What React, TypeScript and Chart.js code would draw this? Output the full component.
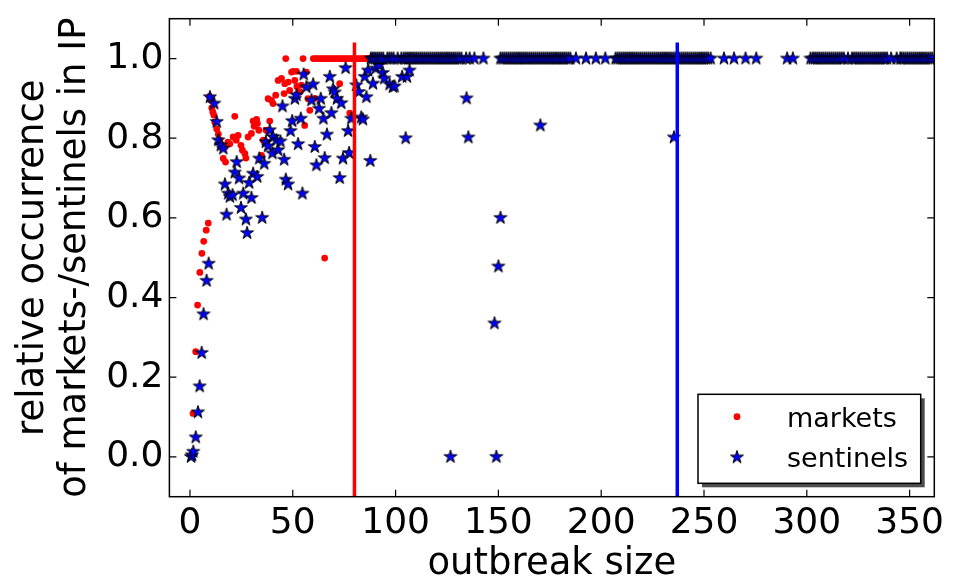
import React, { useEffect, useRef } from 'react';
import { Chart, registerables } from 'chart.js';

Chart.register(...registerables);

// ---------------- data ----------------
const seriesLabels = ['markets', 'sentinels'];

const marketsX = [
  0.8, 1.5, 2.8, 3.7, 4.8, 5.8, 6.7, 7.9, 8.9,
  9.5, 10.3, 10.6, 11.1, 11.6, 12.1, 13.0, 13.8, 14.5, 15.5, 16.2, 17.3, 17.0, 18.5, 19.4,
  21.0, 21.8, 22.5, 23.4, 24.8, 25.5, 26.7, 27.2, 28.3, 29.9, 30.7, 31.2, 32.4, 32.8, 33.5,
  34.8, 35.6, 37.0, 38.0, 38.8, 39.6, 40.4, 41.7, 42.9, 44.5, 45.8, 46.1, 46.6, 47.8, 48.5,
  49.4, 50.2, 51.0, 51.8, 52.0, 53.4, 54.2, 55.0, 55.8, 56.6, 57.4, 58.3, 60.0, 60.7,
  61, 62, 63, 64, 65, 65.5, 66, 67, 68, 69, 70, 71, 72, 72.8, 73, 74, 75, 76, 77, 77.7,
  78, 79, 80, 81, 82, 83, 84, 85, 86, 87, 88, 89, 90, 91, 92.5, 93, 95, 97, 99, 101, 103, 105,
];
const marketsY = [
  0.005, 0.109, 0.264, 0.381, 0.463, 0.511, 0.541, 0.569, 0.587,
  0.905, 0.895, 0.876, 0.866, 0.858, 0.84, 0.823, 0.81, 0.795, 0.776, 0.749, 0.74, 0.778, 0.79, 0.786,
  0.803, 0.855, 0.795, 0.807, 0.782, 0.77, 0.761, 0.75, 0.803, 0.812, 0.843, 0.83, 0.847, 0.837, 0.82,
  0.757, 0.795, 0.82, 0.899, 0.843, 0.895, 0.887, 0.908, 0.945, 0.95, 0.912, 0.937, 1.0, 0.941, 0.92,
  0.966, 0.968, 0.945, 0.968, 0.93, 0.916, 0.933, 1.0, 0.832, 0.966, 0.899, 0.87, 1.0, 0.9,
  1, 1, 1, 1, 1, 0.499, 1, 1, 1, 1, 1, 1, 1, 0.937, 1, 1, 1, 1, 1, 0.863,
  1, 1, 1, 1, 1, 1, 1, 1, 1, 1, 1, 1, 1, 1, 0.99, 1, 1, 1, 1, 1, 1, 0.995,
];

const sentinelsX = [
  0.5, 1.0, 1.6, 2.8, 3.9, 4.7, 5.7, 6.6, 8.1, 9.1,
  9.7, 11.8, 13.0, 13.8, 15.0, 16.2, 17.0, 17.8, 18.6, 19.4, 20.7, 21.8, 22.7, 23.9, 24.8,
  25.9, 27.2, 27.8, 28.8, 29.9, 30.7, 32.7, 33.7, 35.1, 36.1, 36.9, 38.0, 38.8, 40.1, 40.4,
  42.0, 42.9, 44.0, 45.0, 45.8, 46.6, 47.7, 48.9, 49.7, 51.0, 51.8, 52.6, 53.9, 54.7, 55.3,
  56.6, 59.1, 59.9, 60.7, 61.5, 62.8, 63.6, 64.9, 65.5, 66.6, 68.0, 68.8, 69.6, 70.4, 71.5,
  72.8, 73.6, 74.4, 75.7, 76.9, 77.4, 78.5, 80.9, 82.1, 83.3, 84.1, 85.0, 85.8, 86.6, 87.7,
  89.0, 90.3, 91.9, 93.8, 94.5, 97.1, 98.7, 99.5, 103.2, 104.9, 105.5, 106.8,
  126.7, 134.5, 135.4, 148.1, 149.0, 150.0, 151.0, 170.4, 235.4,
];
const sentinelsY = [
  0.0, 0.004, 0.013, 0.049, 0.112, 0.177, 0.261, 0.358, 0.442, 0.485,
  0.903, 0.887, 0.841, 0.795, 0.782, 0.774, 0.684, 0.608, 0.661, 0.653, 0.657, 0.714, 0.74, 0.699, 0.625,
  0.661, 0.596, 0.562, 0.688, 0.65, 0.711, 0.703, 0.749, 0.6, 0.736, 0.79, 0.78, 0.82, 0.762, 0.803,
  0.795, 0.77, 0.792, 0.88, 0.746, 0.696, 0.684, 0.818, 0.843, 0.899, 0.908, 0.785, 0.849, 0.661, 0.96,
  0.928, 0.895, 0.935, 0.778, 0.732, 0.874, 0.899, 0.849, 0.75, 0.809, 0.954, 0.863, 0.923, 0.915, 0.899,
  0.7, 0.888, 0.749, 0.976, 0.818, 0.763, 0.849, 0.933, 0.916, 0.852, 0.847, 0.954, 0.903, 0.97, 0.743,
  0.937, 0.975, 0.983, 0.964, 0.95, 0.935, 0.929, 0.93, 0.954, 0.8, 0.954, 0.97,
  0.0, 0.9, 0.802, 0.335, 0.0, 0.478, 0.6, 0.832, 0.802,
];

// outbreak sizes where the sentinels' relative occurrence is exactly 1.0
const sentinelsFullX = [
  88, 89, 90, 91, 92, 93, 94, 96, 97, 98, 99, 101, 102.8, 104, 105, 106, 107, 108, 109, 110,
  111, 112, 113, 114, 115, 116, 117, 118, 119, 120, 121, 122, 123, 124, 125, 126, 127, 128, 129,
  130, 131, 132, 134.3, 136, 138.3, 142.7,
  151, 152, 153, 154, 155, 156, 157, 158, 159, 160, 161, 162, 163, 164, 165, 166, 167, 168, 169,
  170, 171, 172, 173, 174, 175, 176, 177, 178, 179, 180, 181, 182, 183, 184, 185, 187.7, 192.6,
  197.4, 202,
  207, 208, 209, 210, 211, 212, 213, 214, 215, 216, 217, 218, 219, 220, 221, 222, 223, 224, 225,
  226, 227, 228, 229, 230, 231, 232, 233, 234, 235, 236, 237, 238, 239, 240, 241, 242, 243, 244,
  245, 246, 247, 248, 249, 250, 251, 252, 253.2, 259.7, 264.6, 270.2, 275.4,
  290.4, 293.2,
  301.8, 303, 304, 305, 306, 307, 308, 309, 310, 311, 312, 313, 314, 315, 316, 317, 318, 320,
  322, 323, 324, 325, 326, 327, 328, 329, 330, 331, 332, 333, 334, 335, 336, 337, 338, 339, 341,
  343.7, 345.5, 346, 347, 348, 349, 350, 351, 352, 353, 354, 355, 356, 357, 358, 359, 360, 361,
];

const marketsThreshold = 80;
const sentinelsThreshold = 237;
const thresholdLineY = [-0.1, 1.04];

const xTicks = [0, 50, 100, 150, 200, 250, 300, 350];
const yTicks = [0.0, 0.2, 0.4, 0.6, 0.8, 1.0];
const xRange = [-10, 362];
const yRange = [-0.1, 1.1];

const xTitle = 'outbreak size';
const yTitle = ['relative occurrence', 'of markets-/sentinels in IP'];

const FONT = "'DejaVu Sans', sans-serif";

function makeStar(r: number): HTMLCanvasElement {
  const size = Math.ceil(r * 2 + 4);
  const c = document.createElement('canvas');
  c.width = size;
  c.height = size;
  const ctx = c.getContext('2d')!;
  const cx = size / 2;
  const cy = size / 2;
  ctx.beginPath();
  for (let i = 0; i < 10; i++) {
    const rad = i % 2 === 0 ? r : r * 0.382;
    const a = -Math.PI / 2 + (i * Math.PI) / 5;
    const px = cx + rad * Math.cos(a);
    const py = cy + rad * Math.sin(a);
    if (i === 0) ctx.moveTo(px, py);
    else ctx.lineTo(px, py);
  }
  ctx.closePath();
  ctx.fillStyle = '#0000ff';
  ctx.fill();
  ctx.lineWidth = 1;
  ctx.strokeStyle = '#000000';
  ctx.stroke();
  return c;
}

export default function App() {
  const ref = useRef<HTMLCanvasElement | null>(null);

  useEffect(() => {
    const canvas = ref.current;
    if (!canvas) return;
    const star = makeStar(6.8);

    const marketsData = marketsX.map((x, i) => ({ x, y: marketsY[i] }));
    const sentinelsData = sentinelsX
      .map((x, i) => ({ x, y: sentinelsY[i] }))
      .concat(sentinelsFullX.map((x) => ({ x, y: 1.0 })));

    const framePlugin = {
      id: 'frameAndLegend',
      afterDraw(chart: any) {
        const { ctx, chartArea: a, scales } = chart;
        ctx.save();
        // frame
        ctx.strokeStyle = '#000';
        ctx.lineWidth = 1.5;
        ctx.strokeRect(a.left, a.top, a.right - a.left, a.bottom - a.top);
        // inward ticks on all four sides
        const tl = 7;
        ctx.lineWidth = 1.2;
        ctx.beginPath();
        xTicks.forEach((v) => {
          const px = scales.x.getPixelForValue(v);
          ctx.moveTo(px, a.bottom);
          ctx.lineTo(px, a.bottom - tl);
          ctx.moveTo(px, a.top);
          ctx.lineTo(px, a.top + tl);
        });
        yTicks.forEach((v) => {
          const py = scales.y.getPixelForValue(v);
          ctx.moveTo(a.left, py);
          ctx.lineTo(a.left + tl, py);
          ctx.moveTo(a.right, py);
          ctx.lineTo(a.right - tl, py);
        });
        ctx.stroke();

        // legend
        const w = 222.7;
        const h = 89;
        const bx = a.right - 13.6 - w;
        const by = a.bottom - 13.4 - h;
        ctx.fillStyle = '#4d4d4d';
        ctx.fillRect(bx + 4, by + 4, w, h);
        ctx.fillStyle = '#ffffff';
        ctx.fillRect(bx, by, w, h);
        ctx.strokeStyle = '#000';
        ctx.lineWidth = 1.5;
        ctx.strokeRect(bx, by, w, h);

        const mx = bx + 39;
        const r1 = by + 22.4;
        const r2 = by + 63;
        ctx.fillStyle = '#ff0000';
        ctx.beginPath();
        ctx.arc(mx, r1, 3.4, 0, Math.PI * 2);
        ctx.fill();
        ctx.drawImage(star, mx - star.width / 2, r2 - star.height / 2);

        ctx.fillStyle = '#000';
        ctx.font = `27px ${FONT}`;
        ctx.textAlign = 'left';
        ctx.textBaseline = 'alphabetic';
        ctx.fillText(chart.data.datasets[0].label, bx + 89, by + 32.4);
        ctx.fillText(chart.data.datasets[1].label, bx + 89, by + 73);
        ctx.restore();
      },
    };

    const chart = new Chart(canvas, {
      type: 'scatter',
      data: {
        datasets: [
          {
            label: seriesLabels[0],
            data: marketsData,
            pointStyle: 'circle',
            pointRadius: 3.4,
            pointHoverRadius: 3.4,
            backgroundColor: '#ff0000',
            borderColor: '#ff0000',
            borderWidth: 0,
            order: 3,
          },
          {
            label: seriesLabels[1],
            data: sentinelsData,
            pointStyle: star as any,
            pointRadius: 7,
            order: 2,
          },
          {
            label: 'markets threshold',
            data: thresholdLineY.map((y) => ({ x: marketsThreshold, y })),
            showLine: true,
            borderColor: '#ff0000',
            borderWidth: 3.5,
            pointRadius: 0,
            order: 1,
          },
          {
            label: 'sentinels threshold',
            data: thresholdLineY.map((y) => ({ x: sentinelsThreshold, y })),
            showLine: true,
            borderColor: '#0000ff',
            borderWidth: 3.5,
            pointRadius: 0,
            order: 0,
          },
        ] as any,
      },
      options: {
        animation: false,
        responsive: false,
        maintainAspectRatio: false,
        devicePixelRatio: 1,
        layout: { padding: { top: 18.7, right: 21.7, bottom: 0, left: 0 } },
        plugins: {
          legend: { display: false },
          tooltip: { enabled: false },
        },
        scales: {
          x: {
            type: 'linear',
            min: xRange[0],
            max: xRange[1],
            afterBuildTicks: (s: any) => {
              s.ticks = xTicks.map((v) => ({ value: v }));
            },
            afterFit: (s: any) => {
              s.height = 85.3;
              s.paddingLeft = 0;
              s.paddingRight = 0;
            },
            grid: { display: false, drawTicks: false },
            border: { display: false },
            ticks: {
              color: '#000',
              font: { family: FONT, size: 36 },
              padding: 5,
              maxRotation: 0,
              autoSkip: false,
              callback: (v: any) => String(v),
            },
            title: {
              display: true,
              text: xTitle,
              color: '#000',
              font: { family: FONT, size: 37, lineHeight: 1 },
              padding: { top: 0, bottom: -1 },
            },
          },
          y: {
            type: 'linear',
            min: yRange[0],
            max: yRange[1],
            afterBuildTicks: (s: any) => {
              s.ticks = yTicks.map((v) => ({ value: v }));
            },
            afterFit: (s: any) => {
              s.width = 169.4;
              s.paddingTop = 0;
              s.paddingBottom = 0;
            },
            grid: { display: false, drawTicks: false },
            border: { display: false },
            ticks: {
              color: '#000',
              font: { family: FONT, size: 36 },
              padding: 6,
              autoSkip: false,
              callback: (v: any) => Number(v).toFixed(1),
            },
            title: {
              display: true,
              text: yTitle,
              color: '#000',
              font: { family: FONT, size: 37, lineHeight: 1.127 },
              padding: { top: 13, bottom: 0 },
            },
          },
        },
      } as any,
      plugins: [framePlugin],
    });

    return () => chart.destroy();
  }, []);

  return (
    <div style={{ position: 'absolute', left: 0, top: 0, width: 956, height: 582, background: '#fff' }}>
      <canvas ref={ref} width={956} height={582} style={{ width: 956, height: 582, display: 'block' }} />
    </div>
  );
}
